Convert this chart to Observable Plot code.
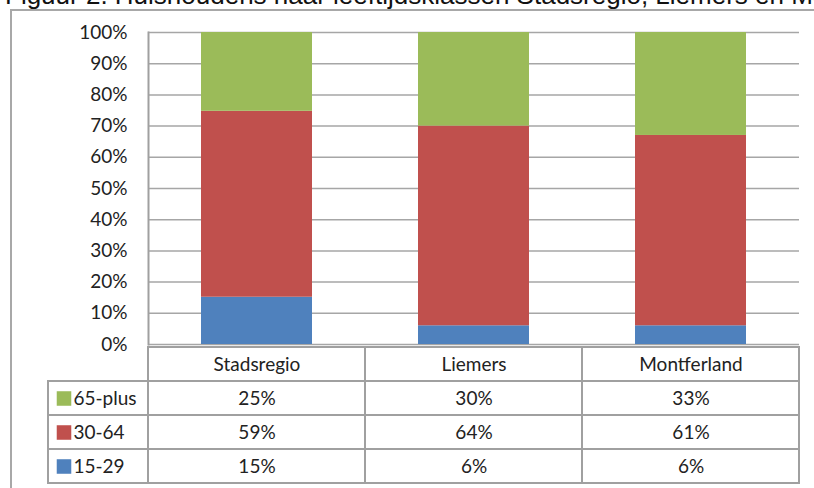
<!DOCTYPE html>
<html>
<head>
<meta charset="utf-8">
<script src="https://cdn.jsdelivr.net/npm/d3@7"></script>
<script src="https://cdn.jsdelivr.net/npm/@observablehq/plot@0.6"></script>
<style>
  html, body { margin: 0; padding: 0; background: white; }
  #wrap { position: relative; width: 814px; height: 488px; overflow: hidden; background: white; }
  #wrap svg { position: absolute; }
  #title { position: absolute; left: 5px; top: -18px; white-space: nowrap;
    font-family: "Liberation Sans", Arial, sans-serif; font-size: 26px; line-height: 26px; color: #111; }
  #chartframe { position: absolute; left: 10px; top: 9px; width: 900px; height: 600px;
    border-left: 2px solid #a8a8a8; border-top: 2px solid #a8a8a8; }
</style>
</head>
<body>
<div id="wrap">
  <div id="title">Figuur 2. Huishoudens naar leeftijdsklassen Stadsregio, Liemers en Montferland</div>
  <div id="chartframe"></div>
</div>
<script>
// ---- data ----
const regions = ["Stadsregio", "Liemers", "Montferland"];
const ageGroups = ["15-29", "30-64", "65-plus"];          // bottom to top in the stack
const tableRowOrder = ["65-plus", "30-64", "15-29"];      // top to bottom in the table
const share15_29 = [15, 6, 6];
const share30_64 = [59, 64, 61];
const share65plus = [25, 30, 33];
const ageColors = ["#4f81bd", "#c0504d", "#9bbb59"];
const yTicks = [0, 0.1, 0.2, 0.3, 0.4, 0.5, 0.6, 0.7, 0.8, 0.9, 1];

const seriesByAge = {"15-29": share15_29, "30-64": share30_64, "65-plus": share65plus};
const data = ageGroups.flatMap(age => regions.map((region, i) => ({region, age, value: seriesByAge[age][i]})));

const font = "Lato, 'Open Sans', sans-serif";
const wrap = document.getElementById("wrap");

// ---- main chart ----
const chart = Plot.plot({
  width: 814, height: 488,
  marginLeft: 148, marginRight: 15, marginTop: 32, marginBottom: 144,
  style: {background: "transparent", fontFamily: font, fontSize: "19px", color: "#222", overflow: "visible"},
  x: {domain: regions, paddingInner: 0.49, paddingOuter: 0.245, axis: null},
  y: {domain: [0, 1], axis: null},
  color: {domain: ageGroups, range: ageColors},
  marks: [
    Plot.ruleY(yTicks, {stroke: "#a6a6a6", strokeWidth: 1.5}),
    Plot.barY(data, Plot.stackY({offset: "normalize", order: ageGroups, x: "region", y: "value", fill: "age"})),
    Plot.frame({anchor: "left", stroke: "#a0a0a0", strokeWidth: 2}),
    Plot.axisY(yTicks, {tickSize: 0, tickPadding: 21, tickFormat: d => Math.round(d * 100) + "%", label: null, fill: "#222"})
  ]
});
chart.style.left = "0px"; chart.style.top = "0px";
wrap.appendChild(chart);

// ---- data table under the chart ----
const tableCells = ["header", ...tableRowOrder].flatMap(row => regions.map(region => ({region, row})));
const table = Plot.plot({
  width: 814, height: 144,
  marginLeft: 148, marginRight: 15, marginTop: 1, marginBottom: 4,
  style: {background: "transparent", fontFamily: font, fontSize: "19px", color: "#222", overflow: "visible"},
  x: {domain: regions, padding: 0, axis: null},
  y: {domain: ["header", ...tableRowOrder], padding: 0, axis: null},
  marks: [
    Plot.cell(tableCells, {x: "region", y: "row", fill: "white", stroke: "#a0a0a0", strokeWidth: 2}),
    Plot.text(regions, {x: d => d, y: () => "header", text: d => d, fill: "#222"}),
    Plot.text(data, {x: "region", y: "age", text: d => d.value + "%", fill: "#222"})
  ]
});
table.style.left = "0px"; table.style.top = "344px";
wrap.appendChild(table);

// ---- legend column of the table ----
const legend = Plot.plot({
  width: 149, height: 144,
  marginLeft: 48, marginRight: 1, marginTop: 1, marginBottom: 4,
  style: {background: "transparent", fontFamily: font, fontSize: "19px", color: "#222", overflow: "visible"},
  x: {domain: ["legend"], padding: 0, axis: null},
  y: {domain: ["header", ...tableRowOrder], padding: 0, axis: null},
  color: {domain: ageGroups, range: ageColors},
  marks: [
    Plot.cell(tableRowOrder, {x: () => "legend", y: d => d, fill: "white", stroke: "#a0a0a0", strokeWidth: 2}),
    Plot.dot(tableRowOrder, {y: d => d, frameAnchor: "left", dx: 15.5, symbol: "square", r: 8.2, fill: d => d, stroke: "none"}),
    Plot.text(tableRowOrder, {y: d => d, frameAnchor: "left", dx: 25, textAnchor: "start", text: d => d, fill: "#222"})
  ]
});
legend.style.left = "0px"; legend.style.top = "344px";
wrap.appendChild(legend);
</script>
</body>
</html>
